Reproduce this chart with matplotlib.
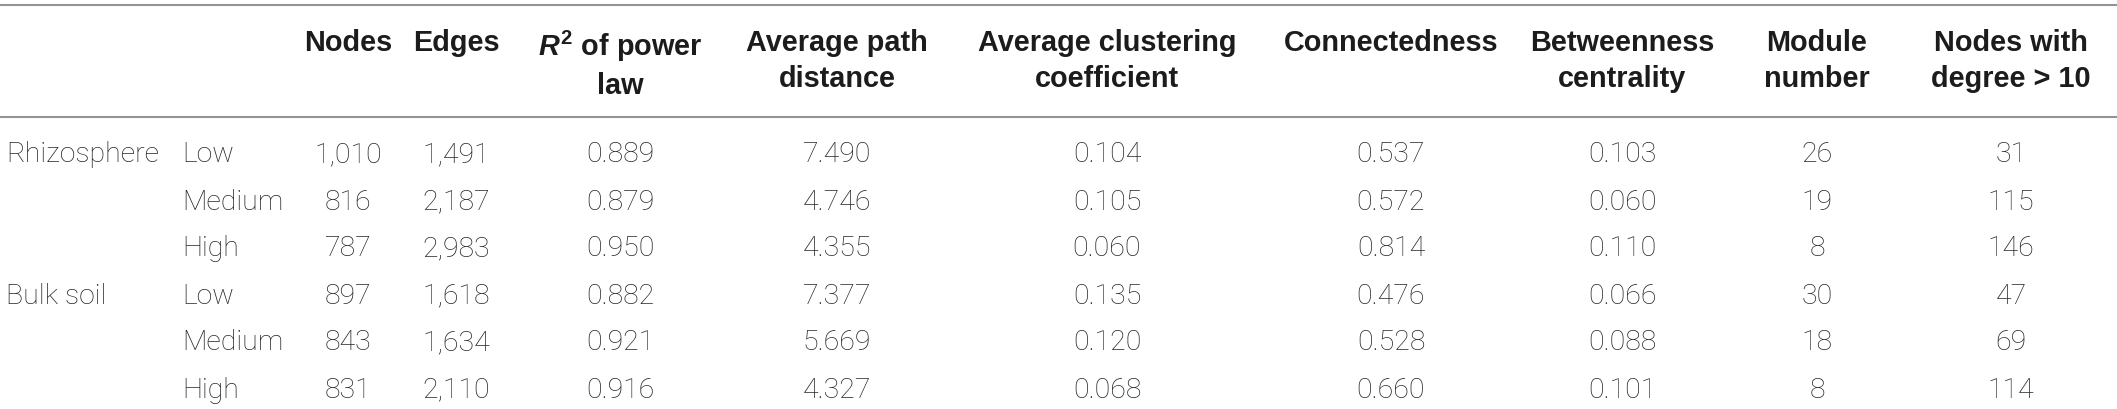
import matplotlib.pyplot as plt

# ---------- data ----------
groups = ["Rhizosphere", "", "", "Bulk soil", "", ""]
levels = ["Low", "Medium", "High", "Low", "Medium", "High"]

headers = [
    "Nodes",
    "Edges",
    "$R^{2}$ of power\nlaw",
    "Average path\ndistance",
    "Average clustering\ncoefficient",
    "Connectedness",
    "Betweenness\ncentrality",
    "Module\nnumber",
    "Nodes with\ndegree > 10",
]

nodes = ["1,010", "816", "787", "897", "843", "831"]
edges = ["1,491", "2,187", "2,983", "1,618", "1,634", "2,110"]
r2_power_law = ["0.889", "0.879", "0.950", "0.882", "0.921", "0.916"]
avg_path_distance = ["7.490", "4.746", "4.355", "7.377", "5.669", "4.327"]
avg_clustering = ["0.104", "0.105", "0.060", "0.135", "0.120", "0.068"]
connectedness = ["0.537", "0.572", "0.814", "0.476", "0.528", "0.660"]
betweenness = ["0.103", "0.060", "0.110", "0.066", "0.088", "0.101"]
module_number = ["26", "19", "8", "30", "18", "8"]
nodes_deg_gt10 = ["31", "115", "146", "47", "69", "114"]

columns = [nodes, edges, r2_power_law, avg_path_distance, avg_clustering,
           connectedness, betweenness, module_number, nodes_deg_gt10]

# ---------- layout (pixels) ----------
W, H = 2117, 409
col_x = [348, 456, 620, 837, 1107, 1391, 1622, 1817, 2011]
group_x, level_x = 6, 182
row_y0, row_dy = 155, 47

plt.rcParams["mathtext.fontset"] = "custom"
plt.rcParams["mathtext.rm"] = "Liberation Sans:bold"
plt.rcParams["mathtext.it"] = "Liberation Sans:italic:bold"

fig = plt.figure(figsize=(W / 100, H / 100), dpi=100)
ax = fig.add_axes([0, 0, 1, 1])
ax.set_xlim(0, W)
ax.set_ylim(H, 0)
ax.axis("off")

head_kw = dict(fontsize=20.8, fontweight="bold", family="Liberation Sans",
               color="#1c1c1c", ha="center", va="top", linespacing=1.36)
body_kw = dict(fontsize=20.5, family=["Roboto", "Liberation Sans"],
               fontweight="light", color="#262626", va="center")

# rules
ax.axhline(5, color="#939393", lw=1.5)
ax.axhline(117, color="#939393", lw=1.5)

# header
for x, h in zip(col_x, headers):
    ax.text(x, 29, h, **head_kw)

# body
for i, (g, lv) in enumerate(zip(groups, levels)):
    y = row_y0 + i * row_dy
    if g:
        ax.text(group_x, y, g, ha="left", **body_kw)
    ax.text(level_x, y, lv, ha="left", **body_kw)
    for x, col in zip(col_x, columns):
        ax.text(x, y, col[i], ha="center", **body_kw)

fig.savefig("out.png", dpi=100, facecolor="white")
